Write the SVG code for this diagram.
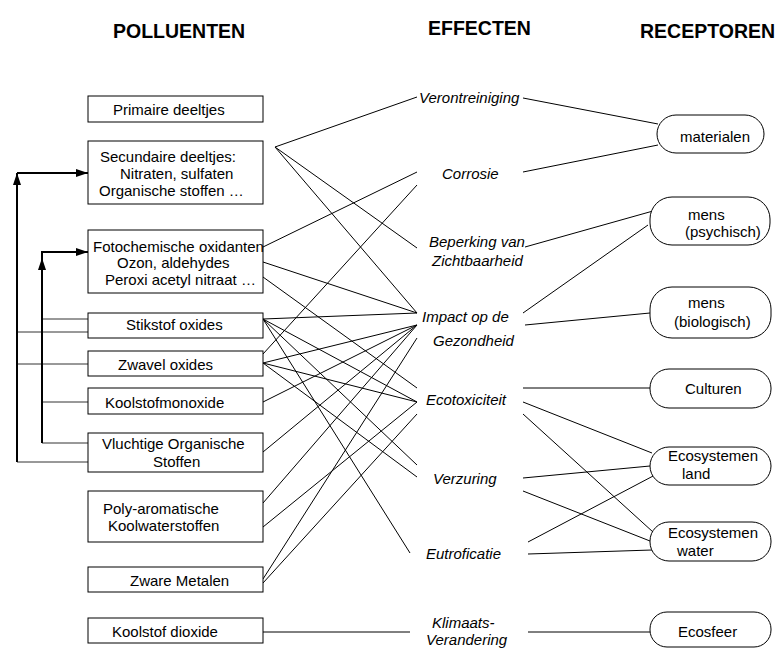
<svg xmlns="http://www.w3.org/2000/svg" width="777" height="648" viewBox="0 0 777 648">
  <style>
    .hdr { font-family: "Liberation Sans", Arial, sans-serif; font-size: 19.5px; font-weight: bold; fill: #000; }
    .box rect { fill: #fff; stroke: #000; stroke-width: 1; }
    .box text, .rec text { font-family: "Liberation Sans", Arial, sans-serif; font-size: 15px; fill: #000; }
    .eff text { font-family: "Liberation Sans", Arial, sans-serif; font-size: 15px; font-style: italic; fill: #000; }
    .rec rect { fill: #fff; stroke: #000; stroke-width: 1; }
    .conn line { stroke: #000; stroke-width: 1; }
    .feed line { stroke: #333; stroke-width: 1; }
    .loop line { stroke: #000; stroke-width: 2; }
  </style>
  <defs>
    <marker id="arrow" viewBox="0 0 12 8" refX="12" refY="4" markerWidth="12" markerHeight="8" markerUnits="userSpaceOnUse" orient="auto">
      <path d="M0,0 L12,4 L0,8 Z" fill="#000"/>
    </marker>
  </defs>

  <!-- column headers -->
  <text class="hdr" x="113" y="38">POLLUENTEN</text>
  <text class="hdr" x="428" y="35">EFFECTEN</text>
  <text class="hdr" x="640" y="38">RECEPTOREN</text>

  <!-- feedback loops on the left -->
  <g id="feedback">
    <g class="feed">
      <line x1="42" y1="319" x2="88" y2="319"/>
      <line x1="17" y1="332" x2="88" y2="332"/>
      <line x1="17" y1="364" x2="88" y2="364"/>
      <line x1="42" y1="402" x2="88" y2="402"/>
      <line x1="42" y1="443" x2="88" y2="443"/>
      <line x1="17" y1="462" x2="88" y2="462"/>
    </g>
    <g class="loop">
      <line x1="17" y1="462" x2="17" y2="173" marker-end="url(#arrow)"/>
      <line x1="17" y1="173" x2="88" y2="173" marker-end="url(#arrow)"/>
      <line x1="42" y1="443" x2="42" y2="258" marker-end="url(#arrow)"/>
      <line x1="42" y1="259" x2="42" y2="252"/>
      <line x1="41" y1="252" x2="88" y2="252" marker-end="url(#arrow)"/>
    </g>
  </g>

  <!-- connectors -->
  <g id="connectors" class="conn">
    <!-- secundaire deeltjes -->
    <line x1="275" y1="147" x2="417" y2="97"/>
    <line x1="275" y1="147" x2="417" y2="248"/>
    <line x1="275" y1="147" x2="417" y2="313"/>
    <!-- fotochemische oxidanten -->
    <line x1="263" y1="247" x2="417" y2="172"/>
    <line x1="263" y1="262" x2="417" y2="313"/>
    <line x1="263" y1="277" x2="417" y2="388"/>
    <!-- stikstof oxides -->
    <line x1="263" y1="319" x2="417" y2="313"/>
    <line x1="263" y1="319" x2="417" y2="402"/>
    <line x1="263" y1="319" x2="417" y2="465"/>
    <line x1="263" y1="319" x2="410" y2="553"/>
    <!-- zwavel oxides -->
    <line x1="263" y1="354" x2="417" y2="185"/>
    <line x1="263" y1="363" x2="417" y2="325"/>
    <line x1="263" y1="363" x2="417" y2="402"/>
    <line x1="263" y1="363" x2="417" y2="477"/>
    <!-- koolstofmonoxide, VOS -->
    <line x1="263" y1="402" x2="417" y2="325"/>
    <line x1="263" y1="452" x2="417" y2="325"/>
    <!-- PAK -->
    <line x1="263" y1="503" x2="417" y2="325"/>
    <line x1="263" y1="527" x2="417" y2="402"/>
    <!-- zware metalen -->
    <line x1="263" y1="579" x2="417" y2="338"/>
    <line x1="263" y1="583" x2="417" y2="414"/>
    <!-- koolstof dioxide -->
    <line x1="263" y1="632" x2="410" y2="632"/>

    <!-- effects to receptors -->
    <line x1="523" y1="98" x2="658" y2="124"/>
    <line x1="523" y1="172" x2="658" y2="145"/>
    <line x1="525" y1="247" x2="653" y2="211"/>
    <line x1="523" y1="313" x2="648" y2="225"/>
    <line x1="525" y1="325" x2="650" y2="313"/>
    <line x1="523" y1="388" x2="650" y2="388"/>
    <line x1="523" y1="402" x2="652" y2="453"/>
    <line x1="523" y1="414" x2="653" y2="532"/>
    <line x1="523" y1="478" x2="650" y2="466"/>
    <line x1="523" y1="491" x2="650" y2="541"/>
    <line x1="528" y1="542" x2="655" y2="475"/>
    <line x1="528" y1="554" x2="652" y2="550"/>
    <line x1="528" y1="632" x2="650" y2="632"/>
  </g>

  <!-- pollutants -->
  <g id="primaire-deeltjes" class="box">
    <rect x="88" y="96" width="175" height="26"/>
    <text x="113" y="115">Primaire deeltjes</text>
  </g>
  <g id="secundaire-deeltjes" class="box">
    <rect x="88" y="141" width="175" height="63"/>
    <text x="100" y="162">Secundaire deeltjes:</text>
    <text x="120" y="179">Nitraten, sulfaten</text>
    <text x="99" y="196">Organische stoffen …</text>
  </g>
  <g id="fotochemische-oxidanten" class="box">
    <rect x="88" y="230" width="175" height="63" style="fill:none"/>
    <text x="93" y="252">Fotochemische oxidanten</text>
    <text x="117" y="268">Ozon, aldehydes</text>
    <text x="105" y="285">Peroxi acetyl nitraat …</text>
  </g>
  <g id="stikstof-oxides" class="box">
    <rect x="88" y="313" width="175" height="25"/>
    <text x="126" y="330">Stikstof oxides</text>
  </g>
  <g id="zwavel-oxides" class="box">
    <rect x="88" y="351" width="175" height="25"/>
    <text x="118" y="370">Zwavel oxides</text>
  </g>
  <g id="koolstofmonoxide" class="box">
    <rect x="88" y="388" width="175" height="26"/>
    <text x="105" y="408">Koolstofmonoxide</text>
  </g>
  <g id="vluchtige-organische-stoffen" class="box">
    <rect x="88" y="433" width="175" height="39"/>
    <text x="102" y="449">Vluchtige Organische</text>
    <text x="153" y="467">Stoffen</text>
  </g>
  <g id="poly-aromatische-koolwaterstoffen" class="box">
    <rect x="88" y="491" width="175" height="51"/>
    <text x="103" y="514">Poly-aromatische</text>
    <text x="108" y="531">Koolwaterstoffen</text>
  </g>
  <g id="zware-metalen" class="box">
    <rect x="88" y="567" width="175" height="25"/>
    <text x="130" y="586">Zware Metalen</text>
  </g>
  <g id="koolstof-dioxide" class="box">
    <rect x="88" y="618" width="175" height="25"/>
    <text x="112" y="637">Koolstof dioxide</text>
  </g>

  <!-- effects -->
  <g id="verontreiniging" class="eff"><text x="419" y="103">Verontreiniging</text></g>
  <g id="corrosie" class="eff"><text x="442" y="179">Corrosie</text></g>
  <g id="beperking-zichtbaarheid" class="eff">
    <text x="429" y="247">Beperking van</text>
    <text x="432" y="266">Zichtbaarheid</text>
  </g>
  <g id="impact-gezondheid" class="eff">
    <text x="422" y="322">Impact op de</text>
    <text x="433" y="346">Gezondheid</text>
  </g>
  <g id="ecotoxiciteit" class="eff"><text x="426" y="405">Ecotoxiciteit</text></g>
  <g id="verzuring" class="eff"><text x="433" y="484">Verzuring</text></g>
  <g id="eutroficatie" class="eff"><text x="426" y="559">Eutroficatie</text></g>
  <g id="klimaatsverandering" class="eff">
    <text x="432" y="628">Klimaats-</text>
    <text x="426" y="645">Verandering</text>
  </g>

  <!-- receptors -->
  <g id="materialen" class="rec">
    <rect x="657" y="115" width="107" height="38" rx="19"/>
    <text x="680" y="142">materialen</text>
  </g>
  <g id="mens-psychisch" class="rec">
    <rect x="650" y="197" width="120" height="48" rx="22"/>
    <text x="688" y="220">mens</text>
    <text x="685" y="237">(psychisch)</text>
  </g>
  <g id="mens-biologisch" class="rec">
    <rect x="650" y="287" width="121" height="51" rx="22"/>
    <text x="688" y="308">mens</text>
    <text x="674" y="327">(biologisch)</text>
  </g>
  <g id="culturen" class="rec">
    <rect x="650" y="369" width="121" height="39" rx="19"/>
    <text x="685" y="394">Culturen</text>
  </g>
  <g id="ecosystemen-land" class="rec">
    <rect x="650" y="447" width="121" height="38" rx="19"/>
    <text x="668" y="461">Ecosystemen</text>
    <text x="682" y="479">land</text>
  </g>
  <g id="ecosystemen-water" class="rec">
    <rect x="650" y="522" width="121" height="39" rx="19"/>
    <text x="668" y="538">Ecosystemen</text>
    <text x="677" y="556">water</text>
  </g>
  <g id="ecosfeer" class="rec">
    <rect x="650" y="612" width="121" height="35" rx="17"/>
    <text x="678" y="637">Ecosfeer</text>
  </g>
</svg>
